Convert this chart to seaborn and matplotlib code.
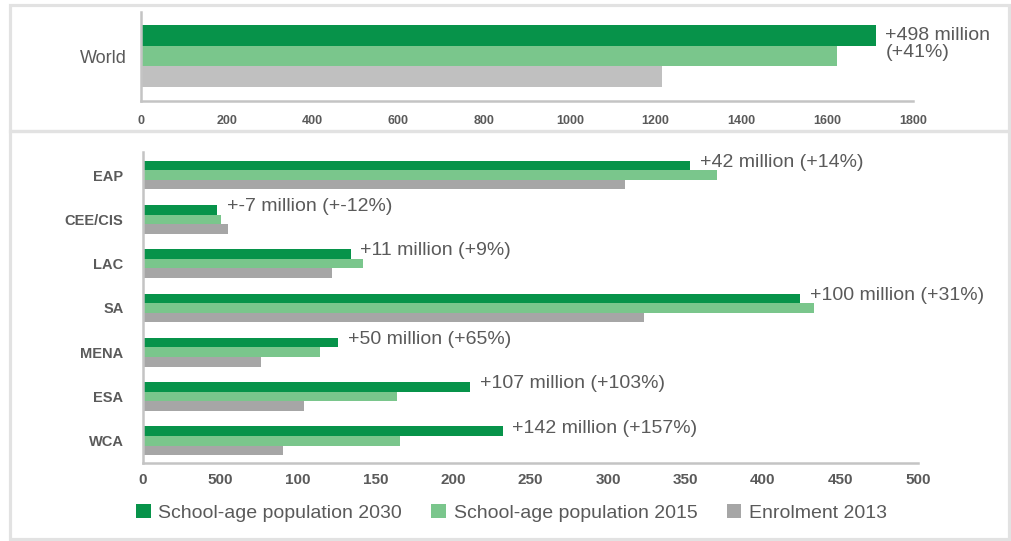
import matplotlib
matplotlib.use("Agg")
import matplotlib.pyplot as plt
from matplotlib.patches import Patch, Rectangle
import pandas as pd
import seaborn as sns

# --- data (millions) ---
series = ["School-age population 2030", "School-age population 2015", "Enrolment 2013"]

world = ["World"]
world_2030 = [1713]
world_2015 = [1622]
world_2013 = [1215]
world_labels = ["+498 million\n(+41%)"]

regions = ["EAP", "CEE/CIS", "LAC", "SA", "MENA", "ESA", "WCA"]
pop_2030 = [353, 48, 134, 424, 126, 211, 232]
pop_2015 = [370, 50, 142, 433, 114, 164, 166]
enrol_2013 = [311, 55, 122, 323, 76, 104, 90]
region_labels = [
    "+42 million (+14%)",
    "+-7 million (+-12%)",
    "+11 million (+9%)",
    "+100 million (+31%)",
    "+50 million (+65%)",
    "+107 million (+103%)",
    "+142 million (+157%)",
]

world_ticks = [0, 200, 400, 600, 800, 1000, 1200, 1400, 1600, 1800]
region_ticks = [0, 50, 100, 150, 200, 250, 300, 350, 400, 450, 500]
# the source chart labels the 50 tick as "500"
region_ticklabels = ["0", "500", "100", "150", "200", "250", "300", "350", "400", "450", "500"]

DARK = "#07934a"
LIGHT = "#7ac68c"
GREY_TOP = "#c0c0c0"
GREY_BOT = "#a6a6a6"
TEXT = "#5a5a5a"
SPINE = "#c4c4c4"
FRAME = "#e2e2e2"


def long_table(cats, a, b, c):
    """Melt three series into the long form seaborn wants."""
    rows = []
    for name, vals in zip(series, [a, b, c]):
        for cat, v in zip(cats, vals):
            rows.append({"cat": cat, "series": name, "value": v})
    return pd.DataFrame(rows)


sns.set_style("white")
plt.rcParams["font.family"] = ["Liberation Sans", "DejaVu Sans"]

fig = plt.figure(figsize=(10.11, 5.41), dpi=100)

# light boxes round the two panels
fig.patches.append(Rectangle((10 / 1011, 1 - 131 / 541), 999 / 1011, 126 / 541,
                             transform=fig.transFigure, fill=False, ec=FRAME, lw=2.3))
fig.patches.append(Rectangle((10 / 1011, 2 / 541), 999 / 1011, 408 / 541,
                             transform=fig.transFigure, fill=False, ec=FRAME, lw=2.3))

# --- top panel: World ---
ax1 = fig.add_axes([141 / 1011, 1 - 101 / 541, 772 / 1011, 89 / 541])
df_w = long_table(world, world_2030, world_2015, world_2013)
sns.barplot(data=df_w, x="value", y="cat", hue="series", hue_order=series,
            palette=[DARK, LIGHT, GREY_TOP], orient="h", width=1.0,
            saturation=1, linewidth=0, legend=False, ax=ax1)
ax1.set_xlim(0, 1800)
ax1.set_ylim(0.726, -0.71)
ax1.set_xticks(world_ticks)
ax1.set_xticklabels([str(t) for t in world_ticks], fontsize=9, fontweight="bold", color=TEXT)
ax1.tick_params(axis="x", length=0, pad=10)
ax1.tick_params(axis="y", length=0, pad=10)
for lab in ax1.get_yticklabels():
    lab.set_fontsize(13)
    lab.set_color(TEXT)
ax1.set_xlabel("")
ax1.set_ylabel("")
for i, txt in enumerate(world_labels):
    ax1.annotate(txt, xy=(world_2030[i], i - 0.2), xytext=(7, 0),
                 textcoords="offset points", va="center", ha="left",
                 fontsize=14, color=TEXT, linespacing=1.0)

# --- bottom panel: regions ---
ax2 = fig.add_axes([143 / 1011, 1 - 463 / 541, 775 / 1011, 311 / 541])
df_r = long_table(regions, pop_2030, pop_2015, enrol_2013)
sns.barplot(data=df_r, x="value", y="cat", hue="series", hue_order=series,
            palette=[DARK, LIGHT, GREY_BOT], orient="h", width=0.65,
            saturation=1, linewidth=0, legend=False, ax=ax2)
ax2.set_xlim(0, 500)
ax2.set_ylim(6.5, -0.52)
ax2.set_xticks(region_ticks)
ax2.set_xticklabels(region_ticklabels, fontsize=11, fontweight="bold", color=TEXT)
ax2.tick_params(axis="x", length=0, pad=7)
ax2.tick_params(axis="y", length=0, pad=14)
for lab in ax2.get_yticklabels():
    lab.set_fontsize(10.5)
    lab.set_fontweight("bold")
    lab.set_color(TEXT)
ax2.set_xlabel("")
ax2.set_ylabel("")
for i, txt in enumerate(region_labels):
    ax2.annotate(txt, xy=(pop_2030[i], i - 0.29), xytext=(7, 0),
                 textcoords="offset points", va="center", ha="left",
                 fontsize=14, color=TEXT)

for ax in (ax1, ax2):
    sns.despine(ax=ax)
    for side in ("left", "bottom"):
        ax.spines[side].set_color(SPINE)
        ax.spines[side].set_linewidth(1.8)
    ax.grid(False)

handles = [Patch(facecolor=c, edgecolor="none") for c in (DARK, LIGHT, GREY_BOT)]
fig.legend(handles, series, loc="center", bbox_to_anchor=(0.506, 0.052), ncol=3,
           frameon=False, fontsize=14, handlelength=0.75, handleheight=0.75,
           handletextpad=0.4, columnspacing=1.5, labelcolor=TEXT)

fig.savefig("out.png", dpi=100)
